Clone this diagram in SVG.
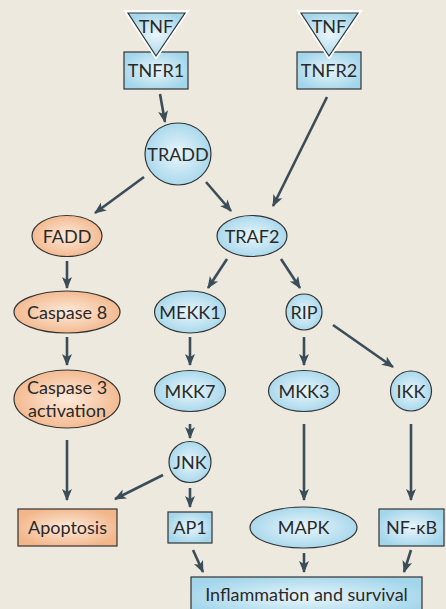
<svg xmlns="http://www.w3.org/2000/svg" width="446" height="609" viewBox="0 0 446 609">
<defs>
<radialGradient id="gb" cx="50%" cy="50%" r="55%">
<stop offset="0" stop-color="#eaf6fb"/>
<stop offset="1" stop-color="#a4d6eb"/>
</radialGradient>
<radialGradient id="go" cx="50%" cy="50%" r="55%">
<stop offset="0" stop-color="#fdeadb"/>
<stop offset="1" stop-color="#f2b68a"/>
</radialGradient>
<marker id="ah" markerUnits="userSpaceOnUse" markerWidth="12" markerHeight="12" viewBox="0 0 12 10" refX="11" refY="5" orient="auto">
<path d="M0,0 L12,5 L0,10 L3,5 z" fill="#3b4d58"/>
</marker>
<style>
.b{fill:url(#gb);stroke:#333;stroke-width:1.2}
.o{fill:url(#go);stroke:#333;stroke-width:1.2}
.t{fill:#fff;stroke:none}
text{font-family:Lato,"Open Sans",sans-serif;font-size:18px;fill:#2a2a2a;text-anchor:middle}
#connectors line{stroke:#3b4d58;stroke-width:2.6;marker-end:url(#ah)}
</style>
</defs>
<rect width="446" height="609" fill="#ede9df"/>
<g id="connectors">
<line x1="160" y1="94" x2="165" y2="122"/>
<line x1="327" y1="97" x2="273" y2="206"/>
<line x1="144" y1="177" x2="95" y2="213"/>
<line x1="206" y1="182" x2="231" y2="211"/>
<line x1="67" y1="261" x2="67" y2="288"/>
<line x1="227" y1="259" x2="208" y2="288"/>
<line x1="281" y1="259" x2="300" y2="288"/>
<line x1="67" y1="337" x2="67" y2="365"/>
<line x1="190" y1="337" x2="190" y2="365"/>
<line x1="304" y1="337" x2="304" y2="365"/>
<line x1="333" y1="325" x2="393" y2="367"/>
<line x1="190" y1="424" x2="190" y2="438"/>
<line x1="67" y1="440" x2="67" y2="500"/>
<line x1="304" y1="424" x2="304" y2="500"/>
<line x1="411" y1="424" x2="411" y2="500"/>
<line x1="163" y1="475" x2="115" y2="499"/>
<line x1="190" y1="488" x2="190" y2="507"/>
<line x1="193" y1="550" x2="203" y2="572"/>
<line x1="304" y1="553" x2="304" y2="572"/>
<line x1="411" y1="550" x2="404" y2="572"/>
</g>
<g id="TNFR1"><rect class="b" x="124" y="52" width="64" height="37"/><text x="156" y="77">TNFR1</text></g>
<g id="TNF1"><polygon class="t" points="123,10 190,10 156,60"/><polygon class="b" points="128,13 185,13 156,56"/><text x="156" y="33">TNF</text></g>
<g id="TNFR2"><rect class="b" x="297" y="52" width="64" height="37"/><text x="329" y="77">TNFR2</text></g>
<g id="TNF2"><polygon class="t" points="296,10 363,10 329,60"/><polygon class="b" points="301,13 358,13 329,56"/><text x="329" y="33">TNF</text></g>
<g id="TRADD"><ellipse class="b" cx="178" cy="154" rx="33" ry="31"/><text x="178" y="160.5">TRADD</text></g>
<g id="FADD"><ellipse class="o" cx="67" cy="236" rx="35" ry="20.5"/><text x="67" y="242.5">FADD</text></g>
<g id="TRAF2"><ellipse class="b" cx="252" cy="236" rx="35" ry="20.5"/><text x="252" y="242.5">TRAF2</text></g>
<g id="Caspase8"><ellipse class="o" cx="67" cy="312" rx="53" ry="21"/><text x="67" y="318.5">Caspase 8</text></g>
<g id="MEKK1"><ellipse class="b" cx="190" cy="312" rx="35.5" ry="21"/><text x="190" y="318.5">MEKK1</text></g>
<g id="RIP"><ellipse class="b" cx="304" cy="312" rx="18" ry="18"/><text x="304" y="318.5">RIP</text></g>
<g id="Caspase3"><ellipse class="o" cx="67" cy="399" rx="53" ry="29"/><text x="67" y="394">Caspase 3</text><text x="67" y="417">activation</text></g>
<g id="MKK7"><ellipse class="b" cx="190" cy="391" rx="35.5" ry="20.5"/><text x="190" y="397.5">MKK7</text></g>
<g id="MKK3"><ellipse class="b" cx="304" cy="391" rx="35.5" ry="20.5"/><text x="304" y="397.5">MKK3</text></g>
<g id="IKK"><ellipse class="b" cx="411" cy="391" rx="20.5" ry="20"/><text x="411" y="397.5">IKK</text></g>
<g id="JNK"><ellipse class="b" cx="190" cy="462" rx="21" ry="20.5"/><text x="190" y="468.5">JNK</text></g>
<g id="Apoptosis"><rect class="o" x="18" y="509" width="99" height="37"/><text x="67.5" y="534">Apoptosis</text></g>
<g id="AP1"><rect class="b" x="168" y="512" width="44" height="31"/><text x="190" y="534">AP1</text></g>
<g id="MAPK"><ellipse class="b" cx="303.5" cy="527.5" rx="53.5" ry="20.5"/><text x="303.5" y="534">MAPK</text></g>
<g id="NFkB"><rect class="b" x="379" y="509" width="65" height="37"/><text x="411.5" y="534">NF-κB</text></g>
<g id="Inflammation"><rect class="b" x="191" y="577" width="231" height="40"/><text x="306.5" y="601">Inflammation and survival</text></g>
</svg>
